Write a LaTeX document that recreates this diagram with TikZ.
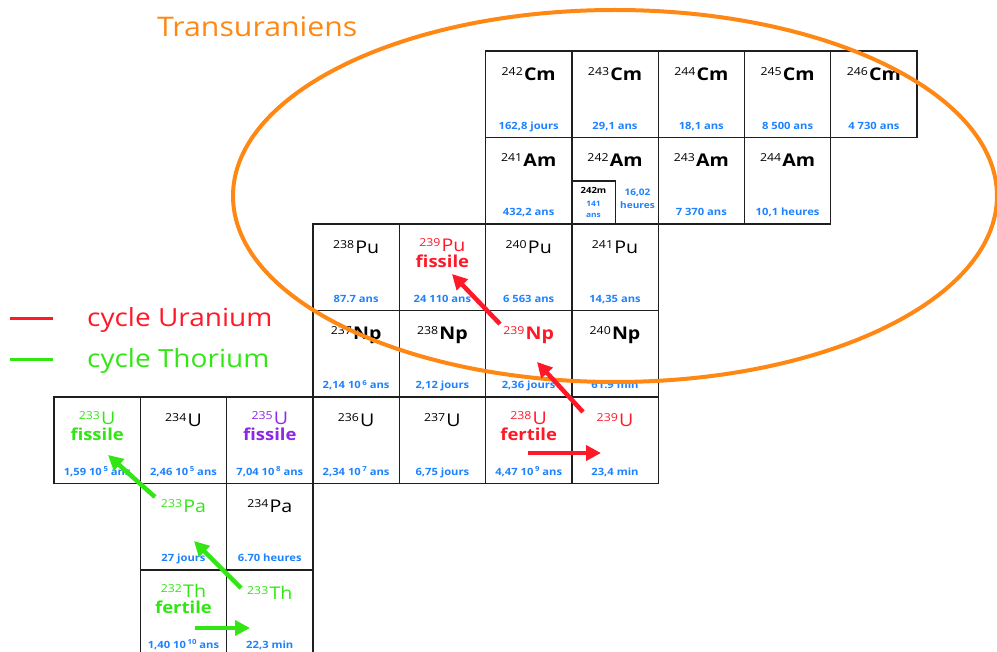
\documentclass[tikz,border=0pt]{standalone}
\usepackage{fontspec}
\setmainfont[FakeStretch=1.12]{Open Sans}
\usetikzlibrary{arrows.meta}
\definecolor{hlblue}{RGB}{30,130,255}
\definecolor{cred}{RGB}{255,25,40}
\definecolor{cgreen}{RGB}{50,230,20}
\definecolor{cpurple}{RGB}{140,40,230}
\definecolor{corange}{RGB}{255,135,20}
\newcommand{\nucl}[2]{{\fontsize{11}{11}\selectfont\raisebox{5pt}{#1}}\hspace{1.2pt}{\fontsize{17.5}{17.5}\selectfont #2}}
\newcommand{\nuclb}[2]{{\fontsize{11}{11}\selectfont\raisebox{5pt}{#1}}\hspace{1.2pt}{\fontsize{17.5}{17.5}\selectfont\bfseries #2}}
\newcommand{\expo}[1]{\raisebox{3.5pt}{\fontsize{7}{7}\selectfont #1}}
\newcommand{\nuc}[5]{%
  \node[cell] (#1) at (#2,#3) {};
  \node[sym] (#1-l) at ([yshift=-30pt]#1.north) {#4};
  \node[hl] (#1-h) at ([yshift=9pt]#1.south) {#5};
}
\newcommand{\nuct}[7]{%
  \node[cell] (#1) at (#2,#3) {};
  \node[sym,text=#7] (#1-l) at ([yshift=-28pt]#1.north) {#4};
  \node[tagtxt,text=#7] (#1-t) at ([yshift=-44pt]#1.north) {#6};
  \node[hl] (#1-h) at ([yshift=9pt]#1.south) {#5};
}
\begin{document}
\begin{tikzpicture}[x=1pt,y=-1pt,
  cell/.style={draw=black!88, line width=1.3pt, minimum width=86.3pt, minimum height=86.5pt, inner sep=0pt},
  sym/.style={inner sep=0pt, anchor=base},
  hl/.style={text=hlblue, font=\fontsize{10}{10}\selectfont\bfseries, inner sep=0pt, anchor=base},
  tagtxt/.style={font=\fontsize{16.5}{16.5}\selectfont\bfseries, inner sep=0pt, anchor=base},
  small/.style={font=\fontsize{8.5}{8.5}\selectfont\bfseries, inner sep=0pt, anchor=base},
  rarrow/.style={cred, line width=4.5pt, -{Triangle[length=15pt,width=15pt]}},
  garrow/.style={cgreen, line width=4.5pt, -{Triangle[length=15pt,width=15pt]}},
  legtxt/.style={font=\fontsize{25}{25}\selectfont, inner sep=0pt, anchor=base west}]
\useasboundingbox (0,0) rectangle (997,652);

% Curium
\nuc{Cm242}{528.7}{94.25}{\nuclb{242}{Cm}}{162,8 jours}
\nuc{Cm243}{615.0}{94.25}{\nuclb{243}{Cm}}{29,1 ans}
\nuc{Cm244}{701.3}{94.25}{\nuclb{244}{Cm}}{18,1 ans}
\nuc{Cm245}{787.6}{94.25}{\nuclb{245}{Cm}}{8 500 ans}
\nuc{Cm246}{873.9}{94.25}{\nuclb{246}{Cm}}{4 730 ans}
% Americium
\nuc{Am241}{528.7}{180.75}{\nuclb{241}{Am}}{432,2 ans}
\node[cell] (Am242) at (615.0,180.75) {};
\node[sym] (Am242-l) at ([yshift=-30pt]Am242.north) {\nuclb{242}{Am}};
\node[draw=black!88, line width=1.2pt, minimum width=44pt, minimum height=43pt, inner sep=0pt, anchor=south west] (Am242m) at (Am242.south west) {};
\node[small] (Am242m-l) at (593.5,194) {242m};
\node[small, text=hlblue, font=\fontsize{7.5}{7.5}\selectfont\bfseries] (Am242m-h1) at (593.5,206.5) {141};
\node[small, text=hlblue, font=\fontsize{7.5}{7.5}\selectfont\bfseries] (Am242m-h2) at (593.5,218) {ans};
\node[small, text=hlblue, font=\fontsize{9}{9}\selectfont\bfseries] (Am242-h1) at (637.5,196) {16,02};
\node[small, text=hlblue, font=\fontsize{9}{9}\selectfont\bfseries] (Am242-h2) at (637.5,209) {heures};
\nuc{Am243}{701.3}{180.75}{\nuclb{243}{Am}}{7 370 ans}
\nuc{Am244}{787.6}{180.75}{\nuclb{244}{Am}}{10,1 heures}
% Plutonium
\nuc{Pu238}{356.1}{267.25}{\nucl{238}{Pu}}{87.7 ans}
\nuct{Pu239}{442.4}{267.25}{\nucl{239}{Pu}}{24 110 ans}{fissile}{cred}
\nuc{Pu240}{528.7}{267.25}{\nucl{240}{Pu}}{6 563 ans}
\nuc{Pu241}{615.0}{267.25}{\nucl{241}{Pu}}{14,35 ans}
% Neptunium
\nuc{Np237}{356.1}{353.75}{\nuclb{237}{Np}}{2,14 10\,\expo{6} ans}
\nuc{Np238}{442.4}{353.75}{\nuclb{238}{Np}}{2,12 jours}
\node[cell] (Np239) at (528.7,353.75) {};
\node[sym,text=cred] (Np239-l) at ([yshift=-30pt]Np239.north) {\nuclb{239}{Np}};
\node[hl] (Np239-h) at ([yshift=9pt]Np239.south) {2,36 jours};
\nuc{Np240}{615.0}{353.75}{\nuclb{240}{Np}}{61.9 min}
% Uranium
\nuct{U233}{97.2}{440.25}{\nucl{233}{U}}{1,59 10\,\expo{5} ans}{fissile}{cgreen}
\nuc{U234}{183.5}{440.25}{\nucl{234}{U}}{2,46 10\,\expo{5} ans}
\nuct{U235}{269.8}{440.25}{\nucl{235}{U}}{7,04 10\,\expo{8} ans}{fissile}{cpurple}
\nuc{U236}{356.1}{440.25}{\nucl{236}{U}}{2,34 10\,\expo{7} ans}
\nuc{U237}{442.4}{440.25}{\nucl{237}{U}}{6,75 jours}
\nuct{U238}{528.7}{440.25}{\nucl{238}{U}}{4,47 10\,\expo{9} ans}{fertile}{cred}
\node[cell] (U239) at (615.0,440.25) {};
\node[sym,text=cred] (U239-l) at ([yshift=-30pt]U239.north) {\nucl{239}{U}};
\node[hl] (U239-h) at ([yshift=9pt]U239.south) {23,4 min};
% Protactinium
\node[cell] (Pa233) at (183.5,526.75) {};
\node[sym,text=cgreen] (Pa233-l) at ([yshift=-30pt]Pa233.north) {\nucl{233}{Pa}};
\node[hl] (Pa233-h) at ([yshift=9pt]Pa233.south) {27 jours};
\nuc{Pa234}{269.8}{526.75}{\nucl{234}{Pa}}{6.70 heures}
% Thorium
\nuct{Th232}{183.5}{613.25}{\nucl{232}{Th}}{1,40 10\,\expo{10} ans}{fertile}{cgreen}
\node[cell] (Th233) at (269.8,613.25) {};
\node[sym,text=cgreen] (Th233-l) at ([yshift=-30pt]Th233.north) {\nucl{233}{Th}};
\node[hl] (Th233-h) at ([yshift=9pt]Th233.south) {22,3 min};

% Transuranium ellipse
\draw[corange, line width=4pt] (615,196) ellipse [x radius=382pt, y radius=186pt];
\node[font=\fontsize{27}{27}\selectfont, text=corange, inner sep=0pt, anchor=base west] (title) at (157,37) {Transuraniens};

% Uranium cycle arrows
\coordinate (r1s) at (583,412); \coordinate (r1e) at (537,362);
\coordinate (r2s) at (500,324); \coordinate (r2e) at (452,274);
\coordinate (r3s) at (528,453); \coordinate (r3e) at (601,453);
\draw[rarrow] (r1s) -- (r1e);
\draw[rarrow] (r2s) -- (r2e);
\draw[rarrow] (r3s) -- (r3e);
% Thorium cycle arrows
\coordinate (g1s) at (155,497); \coordinate (g1e) at (108,455);
\coordinate (g2s) at (241,588); \coordinate (g2e) at (194,541);
\coordinate (g3s) at (195,628); \coordinate (g3e) at (250,628);
\draw[garrow] (g1s) -- (g1e);
\draw[garrow] (g2s) -- (g2e);
\draw[garrow] (g3s) -- (g3e);

% Legend
\coordinate (lr1) at (10,319); \coordinate (lr2) at (53,319);
\coordinate (lg1) at (10,360); \coordinate (lg2) at (53,360);
\draw[cred, line width=3pt] (lr1) -- (lr2);
\draw[cgreen, line width=3pt] (lg1) -- (lg2);
\node[legtxt, text=cred] (legU) at (87,327) {cycle Uranium};
\node[legtxt, text=cgreen] (legT) at (87,368) {cycle Thorium};
\end{tikzpicture}
\end{document}
